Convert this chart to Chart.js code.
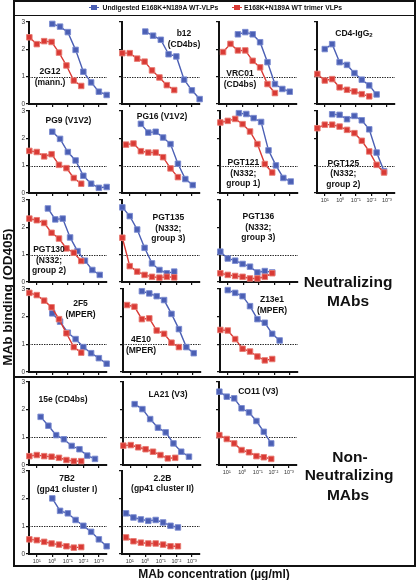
<!DOCTYPE html>
<html><head><meta charset="utf-8">
<script src="https://cdn.jsdelivr.net/npm/chart.js@4"></script>
<style>
html,body{margin:0;padding:0;background:#fff;width:416px;height:580px;overflow:hidden;}
body{position:relative;font-family:"Liberation Sans",Arial,sans-serif;color:#111;}
canvas{position:absolute;z-index:1;}
.frame{position:absolute;left:13px;top:0;width:403px;height:567px;border:2px solid #111;box-sizing:border-box;z-index:0;}
.hline{position:absolute;left:13px;width:403px;background:#111;z-index:0;}
.plabel{position:absolute;transform:translateX(-50%);text-align:center;font-weight:bold;font-size:8.5px;line-height:10.5px;white-space:nowrap;z-index:2;}
.plabel sub{font-size:6px;vertical-align:-1px;line-height:0;}
.big{position:absolute;transform:translate(-50%,-50%);font-weight:bold;font-size:15.5px;white-space:nowrap;z-index:2;}
.leg{position:absolute;font-weight:bold;font-size:6.8px;line-height:8px;top:4px;white-space:nowrap;z-index:2;}
.mk{position:absolute;top:7px;width:10px;height:1.4px;z-index:2;}
.mk i{position:absolute;left:2.3px;top:-2.3px;width:5.5px;height:5.5px;}
.ytitle{position:absolute;left:6.5px;top:297px;transform:translate(-50%,-50%) rotate(-90deg);font-weight:bold;font-size:13.5px;white-space:nowrap;z-index:2;}
.xtitle{position:absolute;left:214px;top:574px;transform:translate(-50%,-50%);font-weight:bold;font-size:12px;white-space:nowrap;z-index:2;}
</style></head><body>
<div class="frame"></div>
<div class="hline" style="top:14.5px;height:1.5px"></div>
<div class="hline" style="top:376px;height:2px"></div>

<div class="mk" style="left:89px;background:#4b5fb4"><i style="background:#4b5fb4"></i></div>
<div class="leg" style="left:102.5px">Undigested E168K+N189A WT-VLPs</div>
<div class="mk" style="left:232px;background:#d93a35"><i style="background:#d93a35"></i></div>
<div class="leg" style="left:244px">E168K+N189A WT trimer VLPs</div>

<div class="ytitle">MAb binding (OD405)</div>
<div class="xtitle">MAb concentration (µg/ml)</div>

<div class="big" style="left:348px;top:282px">Neutralizing</div>
<div class="big" style="left:348px;top:300.5px">MAbs</div>
<div class="big" style="left:350px;top:456.5px">Non-</div>
<div class="big" style="left:349px;top:475px">Neutralizing</div>
<div class="big" style="left:348px;top:494.5px">MAbs</div>

<script>
// ---- data (MAb concentration in µg/ml; OD405 binding) ----
const dosesA = [30, 10, 3.33, 1.11, 0.370, 0.123, 0.0412, 0.0137, 0.00457, 0.00152, 0.000508];
const dosesB = [17.3, 5.77, 1.92, 0.641, 0.214, 0.0713, 0.0238, 0.00792, 0.00264, 0.00088];
const dosesC = [1, 0.316, 0.1, 0.0316, 0.01, 0.00316, 0.001, 0.000316];
const dosesD = [5.62, 1.78, 0.562, 0.178, 0.0562, 0.0178, 0.00562, 0.00178];
const decadeTicks = [10, 1, 0.1, 0.01, 0.001];
const xTickLabels = ['10¹', '10⁰', '10⁻¹', '10⁻²', '10⁻³'];
const yTicks = [0, 1, 2, 3];
const threshold = 1;
const seriesNames = ['Undigested E168K+N189A WT-VLPs', 'E168K+N189A WT trimer VLPs'];

const blue2G12 = [2.93, 2.83, 2.63, 1.98, 1.18, 0.79, 0.45, 0.33];
const red2G12  = [2.44, 2.19, 2.30, 2.27, 1.88, 1.41, 0.86, 0.66];
const blueB12  = [2.65, 2.50, 2.35, 1.82, 1.74, 0.89, 0.50, 0.18];
const redB12   = [1.86, 1.86, 1.66, 1.55, 1.23, 0.97, 0.69, 0.51];
const blueVRC01 = [2.55, 2.63, 2.55, 2.26, 1.53, 0.73, 0.55, 0.45];
const redVRC01  = [1.90, 2.20, 1.96, 1.96, 1.58, 1.34, 0.73, 0.40];
const blueCD4 = [2.01, 2.19, 1.53, 1.43, 1.13, 0.89, 0.68, 0.35];
const redCD4  = [1.10, 0.86, 0.91, 0.61, 0.52, 0.46, 0.36, 0.28];
const bluePG9 = [2.24, 1.98, 1.50, 1.19, 0.63, 0.34, 0.19, 0.22];
const redPG9  = [1.54, 1.50, 1.34, 1.42, 1.03, 0.91, 0.55, 0.34];
const bluePG16 = [2.53, 2.21, 2.24, 2.03, 1.79, 1.07, 0.51, 0.29];
const redPG16  = [1.77, 1.81, 1.53, 1.48, 1.48, 1.31, 0.90, 0.58];
const bluePGT121 = [2.92, 2.89, 2.74, 2.60, 1.56, 1.01, 0.55, 0.42];
const redPGT121  = [2.58, 2.64, 2.71, 2.52, 2.25, 1.79, 1.06, 0.75];
const bluePGT125 = [2.88, 2.86, 2.70, 2.82, 2.66, 2.33, 1.48, 0.80];
const redPGT125  = [2.37, 2.50, 2.50, 2.43, 2.31, 2.19, 1.91, 1.52, 1.03, 0.75];
const bluePGT130 = [2.69, 2.29, 2.32, 1.63, 1.13, 0.78, 0.44, 0.26];
const redPGT130  = [2.32, 2.26, 2.16, 1.80, 1.59, 1.23, 1.07, 0.77];
const bluePGT135 = [2.73, 2.41, 1.92, 1.25, 0.68, 0.44, 0.32, 0.38];
const redPGT135  = [1.62, 0.58, 0.38, 0.26, 0.19, 0.16, 0.19, 0.17];
const bluePGT136 = [1.11, 0.86, 0.78, 0.66, 0.56, 0.35, 0.40, 0.35];
const redPGT136  = [0.32, 0.26, 0.22, 0.19, 0.13, 0.13, 0.19, 0.32];
const blue2F5 = [2.12, 1.82, 1.42, 1.19, 0.90, 0.68, 0.50, 0.30];
const red2F5  = [2.86, 2.78, 2.58, 2.34, 1.91, 1.40, 0.90, 0.70];
const blue4E10 = [2.92, 2.84, 2.74, 2.60, 2.10, 1.55, 0.90, 0.68];
const red4E10  = [2.42, 2.36, 1.91, 1.94, 1.50, 1.38, 1.06, 0.90];
const blueZ13e1 = [2.96, 2.86, 2.74, 2.38, 1.91, 1.78, 1.38, 1.14];
const redZ13e1  = [1.52, 1.50, 1.19, 0.84, 0.74, 0.56, 0.42, 0.47];
const blue15e = [1.74, 1.42, 1.08, 0.93, 0.69, 0.57, 0.34, 0.22];
const red15e  = [0.32, 0.36, 0.32, 0.30, 0.26, 0.18, 0.14, 0.14];
const blueLA21 = [2.20, 2.02, 1.66, 1.35, 1.18, 0.78, 0.48, 0.30];
const redLA21  = [0.70, 0.72, 0.64, 0.57, 0.48, 0.36, 0.24, 0.26];
const blueCO11 = [2.65, 2.47, 2.41, 2.05, 1.90, 1.59, 1.20, 0.78];
const redCO11  = [1.08, 0.94, 0.78, 0.54, 0.46, 0.32, 0.28, 0.22];
const blue7B2 = [2.01, 1.56, 1.47, 1.23, 1.02, 0.80, 0.53, 0.28];
const red7B2  = [0.53, 0.50, 0.44, 0.38, 0.34, 0.28, 0.23, 0.25];
const blue22B = [1.47, 1.32, 1.25, 1.20, 1.23, 1.14, 1.02, 0.96];
const red22B  = [0.60, 0.46, 0.41, 0.38, 0.38, 0.34, 0.28, 0.28];

// ---- layout ----
const colX = [29, 122, 220, 317];
const rowY = [104, 193, 282, 372, 465, 554];
const rowH = [82, 82, 82, 83, 83, 83];
const W = 78, L = 14, T = 6, R = 7, B = 14;
const BLUE = '#4b5fb4', RED = '#d93a35';
const FONT = 'Liberation Sans';

const panels = [
  {row:0,col:0,dx:0, label:['2G12','(mann.)'], lx:50, ly:71.5, blue:blue2G12, bx:dosesC, red:red2G12, rx:dosesA.slice(0,8)},
  {row:0,col:1,dx:0, label:['b12','(CD4bs)'], lx:184, ly:33.5, blue:blueB12, bx:dosesC, red:redB12, rx:dosesA.slice(0,8)},
  {row:0,col:2,dx:-1, label:['VRC01','(CD4bs)'], lx:240, ly:73.5, blue:blueVRC01, bx:dosesB.slice(2,10), red:redVRC01, rx:dosesB.slice(0,8)},
  {row:0,col:3,dx:0, label:['CD4-IgG<sub>2</sub>'], lx:354, ly:33.5, blue:blueCD4, bx:dosesA.slice(1,9), red:redCD4, rx:dosesA.slice(0,8)},
  {row:1,col:0,dx:0, label:['PG9 (V1V2)'], lx:68.5, ly:120.7, blue:bluePG9, bx:dosesC, red:redPG9, rx:dosesA.slice(0,8)},
  {row:1,col:1,dx:0, label:['PG16 (V1V2)'], lx:162, ly:116.7, blue:bluePG16, bx:dosesB.slice(2,10), red:redPG16, rx:dosesB.slice(0,8)},
  {row:1,col:2,dx:0, label:['PGT121','(N332;','group 1)'], lx:243.3, ly:162.7, blue:bluePGT121, bx:dosesB.slice(2,10), red:redPGT121, rx:dosesA.slice(0,8)},
  {row:1,col:3,dx:0, label:['PGT125','(N332;','group 2)'], lx:343.3, ly:163, blue:bluePGT125, bx:dosesA.slice(2,10), red:redPGT125, rx:dosesA.slice(0,10), xlab:true},
  {row:2,col:0,dx:0, label:['PGT130','(N332;','group 2)'], lx:49, ly:249.3, blue:bluePGT130, bx:dosesB.slice(2,10), red:redPGT130, rx:dosesA.slice(0,8)},
  {row:2,col:1,dx:0, label:['PGT135','(N332;','group 3)'], lx:168.3, ly:217.3, blue:bluePGT135, bx:dosesA.slice(0,8), red:redPGT135, rx:dosesA.slice(0,8)},
  {row:2,col:2,dx:0, label:['PGT136','(N332;','group 3)'], lx:258.3, ly:216.7, blue:bluePGT136, bx:dosesA.slice(0,8), red:redPGT136, rx:dosesA.slice(0,8)},
  {row:3,col:0,dx:0, label:['2F5','(MPER)'], lx:80.5, ly:303.3, blue:blue2F5, bx:dosesC, red:red2F5, rx:dosesA.slice(0,8)},
  {row:3,col:1,dx:1, label:['4E10','(MPER)'], lx:141, ly:339.3, blue:blue4E10, bx:dosesB.slice(2,10), red:red4E10, rx:dosesB.slice(0,8)},
  {row:3,col:2,dx:0, label:['Z13e1','(MPER)'], lx:272, ly:299.5, blue:blueZ13e1, bx:dosesA.slice(1,9), red:redZ13e1, rx:dosesA.slice(0,8)},
  {row:4,col:0,dx:0, label:['15e (CD4bs)'], lx:63, ly:399.5, blue:blue15e, bx:dosesD, red:red15e, rx:dosesA.slice(0,8)},
  {row:4,col:1,dx:1, label:['LA21 (V3)'], lx:168, ly:394.3, blue:blueLA21, bx:dosesD, red:redLA21, rx:dosesA.slice(0,8)},
  {row:4,col:2,dx:-1, label:['CO11 (V3)'], lx:258.3, ly:391.7, blue:blueCO11, bx:dosesA.slice(0,8), red:redCO11, rx:dosesA.slice(0,8), xlab:true},
  {row:5,col:0,dx:0, label:['7B2','(gp41 cluster I)'], lx:67, ly:478.3, blue:blue7B2, bx:dosesC, red:red7B2, rx:dosesA.slice(0,8), xlab:true},
  {row:5,col:1,dx:0, label:['2.2B','(gp41 cluster II)'], lx:162.5, ly:478, blue:blue22B, bx:dosesB.slice(0,8), red:red22B, rx:dosesB.slice(0,8), xlab:true}
];

const refLine = {
  id: 'refLine',
  beforeDatasetsDraw(chart) {
    const {ctx, chartArea: a, scales: {y}} = chart;
    const py = Math.round(y.getPixelForValue(threshold)) + 0.5;
    ctx.save();
    ctx.setLineDash([1.4, 1.1]);
    ctx.strokeStyle = '#222';
    ctx.lineWidth = 1;
    ctx.beginPath();
    ctx.moveTo(a.left, py);
    ctx.lineTo(a.right, py);
    ctx.stroke();
    ctx.restore();
  }
};

function pts(xs, ys) { return ys.map((v, i) => ({x: xs[i], y: v})); }

function ds(label, xs, ys, col, halo) {
  return {
    label, data: pts(xs, ys), borderColor: col, backgroundColor: col,
    borderWidth: 1.4, pointStyle: 'rect', pointRadius: 3.9,
    pointBackgroundColor: col, pointBorderColor: halo, pointBorderWidth: 0.9,
    tension: 0, clip: false
  };
}

panels.forEach(p => {
  const x0 = colX[p.col] + p.dx;
  const y0 = rowY[p.row], h = rowH[p.row];
  const cv = document.createElement('canvas');
  cv.width = L + W + R; cv.height = T + h + B;
  cv.style.width = cv.width + 'px'; cv.style.height = cv.height + 'px';
  cv.style.left = (x0 - L) + 'px'; cv.style.top = (y0 - h - T) + 'px';
  document.body.appendChild(cv);

  const lab = document.createElement('div');
  lab.className = 'plabel';
  lab.style.left = p.lx + 'px';
  lab.style.top = (p.ly - 5.25) + 'px';
  lab.innerHTML = p.label.join('<br>');
  document.body.appendChild(lab);

  new Chart(cv, {
    type: 'line',
    data: { datasets: [
      ds(seriesNames[1], p.rx, p.red, RED, '#e87a72'),
      ds(seriesNames[0], p.bx, p.blue, BLUE, '#7a8bd0')
    ]},
    options: {
      responsive: false, animation: false, devicePixelRatio: 1,
      layout: { padding: { top: T, right: R, left: 0, bottom: 0 } },
      plugins: { legend: { display: false }, tooltip: { enabled: false } },
      scales: {
        x: {
          type: 'logarithmic', reverse: true, min: 0.0003, max: 31.6, bounds: 'data',
          afterBuildTicks: s => { s.ticks = decadeTicks.map(v => ({value: v})); },
          afterFit: s => { s.height = B; s.paddingLeft = 0; s.paddingRight = 0; },
          grid: { drawOnChartArea: false, drawTicks: true, tickLength: 3, color: '#111', lineWidth: 1.2 },
          border: { display: true, color: '#111', width: 2 },
          ticks: { display: !!p.xlab, autoSkip: false, maxRotation: 0, padding: 1, color: '#333',
                   font: { family: FONT, size: 5.5 }, callback: (v, i) => xTickLabels[i] }
        },
        y: {
          min: 0, max: 3, bounds: 'data',
          afterBuildTicks: s => { s.ticks = yTicks.map(v => ({value: v})); },
          afterFit: s => { s.width = L; s.paddingTop = 0; s.paddingBottom = 0; },
          grid: { drawOnChartArea: false, drawTicks: true, tickLength: 3, color: '#111', lineWidth: 1.2 },
          border: { display: true, color: '#111', width: 2 },
          ticks: { display: p.col === 0, padding: 1, color: '#333',
                   font: { family: FONT, size: 6.5 }, callback: v => String(v) }
        }
      }
    },
    plugins: [refLine]
  });
});
</script>
</body></html>
